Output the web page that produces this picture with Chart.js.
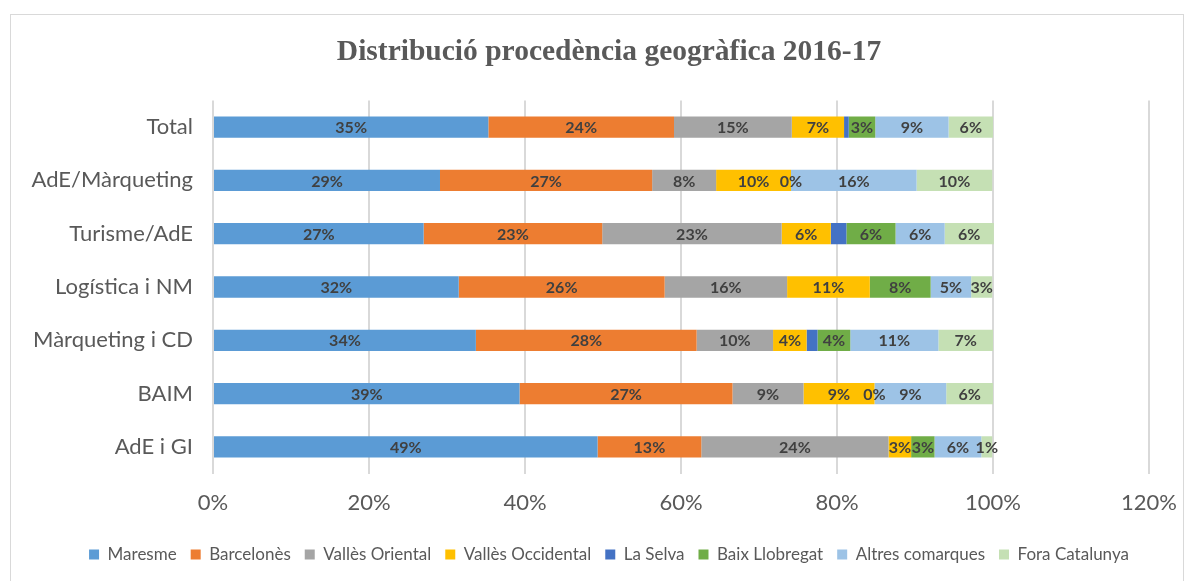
<!DOCTYPE html>
<html>
<head>
<meta charset="utf-8">
<script src="https://cdn.jsdelivr.net/npm/chart.js@4"></script>
<style>
  html, body { margin: 0; padding: 0; background: #fff; }
  #frame { position: absolute; left: 10px; top: 14px; width: 1172px; height: 566px; border: 1px solid #d9d9d9; }
  #wrap { position: absolute; left: 0; top: 0; width: 1193px; height: 581px; }
</style>
</head>
<body>
<div id="frame"></div>
<div id="wrap"><canvas id="chart" width="1193" height="581"></canvas></div>
<script>
// categories (top to bottom)
const categories = ["Total", "AdE/Màrqueting", "Turisme/AdE", "Logística i NM", "Màrqueting i CD", "BAIM", "AdE i GI"];

// series values, in %
const maresme       = [35.3, 29.1, 27.0, 31.5, 33.7, 39.3, 49.3];
const barcelones    = [23.8, 27.2, 22.9, 26.4, 28.3, 27.3, 13.3];
const vallesOriental   = [15.1, 8.2, 23.0, 15.7, 9.8, 9.1, 24.0];
const vallesOccidental = [6.7, 9.6, 6.3, 10.6, 4.3, 9.1, 2.9];
const laSelva       = [0.6, 0, 2.0, null, 1.4, 0, null];
const baixLlobregat = [3.4, null, 6.3, 7.8, 4.2, null, 3.0];
const altres        = [9.4, 16.1, 6.3, 5.2, 11.3, 9.2, 6.0];
const fora          = [5.7, 9.7, 6.3, 2.7, 7.0, 6.0, 1.4];

const xTicks = [0, 20, 40, 60, 80, 100, 120];

const grey = "#595959";
const font = "Lato, 'Liberation Sans', sans-serif";

// =============================
// Etiquetes dins les barres
// =============================
const barLabels = {
  id: "barLabels",
  afterDatasetsDraw(chart) {
    const ctx = chart.ctx;
    ctx.save();
    ctx.font = "bold 16px " + font;
    ctx.fillStyle = "#404040";
    ctx.textAlign = "center";
    ctx.textBaseline = "middle";
    chart.data.datasets.forEach((ds, i) => {
      const meta = chart.getDatasetMeta(i);
      meta.data.forEach((el, j) => {
        const v = ds.data[j];
        if (v === null || v === undefined) return;
        if (ds.label === "La Selva" && v > 0) return;
        const x = (el.x + el.base) / 2;
        ctx.fillText(Math.round(v) + "%", x, el.y + 1);
      });
    });
    ctx.restore();
  }
};

function serie(label, data, color) {
  return { label, data, backgroundColor: color, borderWidth: 0,
           categoryPercentage: 1, barPercentage: 0.4 };
}

new Chart(document.getElementById("chart"), {
  type: "bar",
  data: {
    labels: categories,
    datasets: [
      serie("Maresme", maresme, "#5B9BD5"),
      serie("Barcelonès", barcelones, "#ED7D31"),
      serie("Vallès Oriental", vallesOriental, "#A5A5A5"),
      serie("Vallès Occidental", vallesOccidental, "#FFC000"),
      serie("La Selva", laSelva, "#4472C4"),
      serie("Baix Llobregat", baixLlobregat, "#70AD47"),
      serie("Altres comarques", altres, "#9DC3E6"),
      serie("Fora Catalunya", fora, "#C5E0B4")
    ]
  },
  plugins: [barLabels],
  options: {
    indexAxis: "y",
    responsive: false,
    animation: false,
    layout: { padding: { left: 68, right: 43, bottom: 8 } },
    plugins: {
      title: {
        display: true,
        text: "Distribució procedència geogràfica 2016-17",
        color: grey,
        font: { family: "'Liberation Serif', serif", size: 29.5, weight: "bold" },
        padding: { top: 35, bottom: 30 }
      },
      legend: {
        position: "bottom",
        labels: {
          color: grey,
          font: { family: font, size: 17 },
          boxWidth: 10,
          boxHeight: 10,
          padding: 14
        }
      },
      tooltip: { enabled: false }
    },
    scales: {
      x: {
        stacked: true,
        min: 0,
        max: 120,
        afterBuildTicks(scale) { scale.ticks = xTicks.map(v => ({ value: v })); },
        ticks: {
          color: grey,
          font: { family: font, size: 22 },
          padding: 16,
          callback: v => v + "%"
        },
        grid: { color: "#d9d9d9", lineWidth: 2, drawTicks: false },
        border: { display: false }
      },
      y: {
        stacked: true,
        afterFit(scale) {
          scale.width = 145;
          // les etiquetes surten del requadre de l'eix: no retallar
          scale._computeLabelArea = () => undefined;
        },
        ticks: {
          color: grey,
          font: { family: font, size: 22 },
          padding: 20
        },
        grid: { display: false, drawTicks: false },
        border: { display: false }
      }
    }
  }
});
</script>
</body>
</html>
